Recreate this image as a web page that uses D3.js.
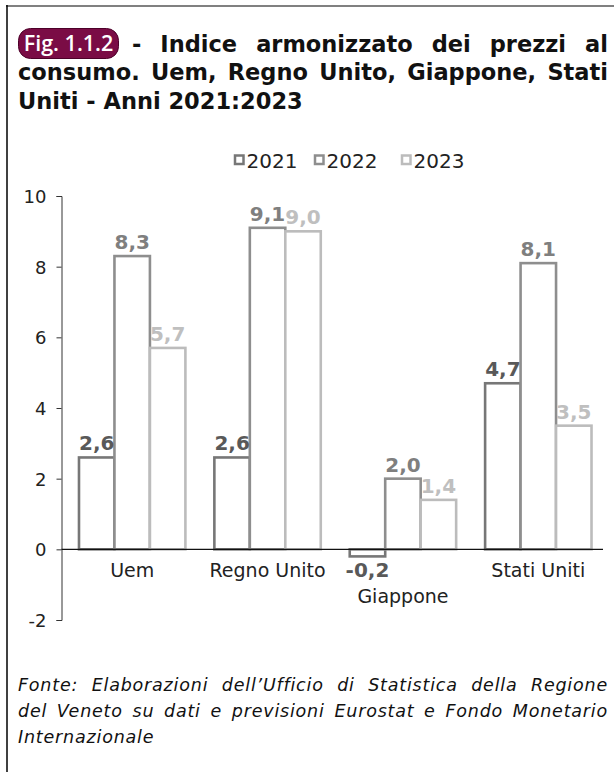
<!DOCTYPE html>
<html>
<head>
<meta charset="utf-8">
<script src="https://cdn.jsdelivr.net/npm/d3@7"></script>
<style>
  html, body { margin: 0; padding: 0; background: #fff; }
  svg { display: block; }
</style>
</head>
<body>
<script>
// Harmonised index of consumer prices, % change, 2021–2023
const categories = ["Uem", "Regno Unito", "Giappone", "Stati Uniti"];
const years = ["2021", "2022", "2023"];
const values2021 = [2.6, 2.6, -0.2, 4.7];
const values2022 = [8.3, 9.1, 2.0, 8.1];
const values2023 = [5.7, 9.0, 1.4, 3.5];
const yTicks = [-2, 0, 2, 4, 6, 8, 10];

const figLabel = "Fig. 1.1.2";
const titleLines = [
  "- Indice armonizzato dei prezzi al",
  "consumo. Uem, Regno Unito, Giappone, Stati",
  "Uniti - Anni 2021:2023"
];
const sourceLines = [
  "Fonte: Elaborazioni dell\u2019Ufficio di Statistica della Regione",
  "del Veneto su dati e previsioni Eurostat e Fondo Monetario",
  "Internazionale"
];

const seriesValues = [values2021, values2022, values2023];
const strokeColors = ["#777777", "#8e8e8e", "#bcbcbc"];
const labelColors = ["#595959", "#7f7f7f", "#bfbfbf"];

const W = 614, H = 772;
const svg = d3.select("body").append("svg").attr("width", W).attr("height", H);

// frame
svg.append("line").attr("x1", 6).attr("x2", W).attr("y1", 6).attr("y2", 6)
  .attr("stroke", "#808080").attr("stroke-width", 2);
svg.append("line").attr("x1", 7).attr("x2", 7).attr("y1", 5).attr("y2", H)
  .attr("stroke", "#000").attr("stroke-width", 1.5);

// lay words out so the line fills [x0, x1]
function justified(g, text, x0, x1, y, attrs, stretch) {
  const words = text.split(" ");
  const nodes = words.map(w => {
    const t = g.append("text").attr("y", y).text(w);
    Object.entries(attrs).forEach(([k, v]) => t.attr(k, v));
    return t;
  });
  const widths = nodes.map(n => n.node().getComputedTextLength());
  const total = d3.sum(widths);
  const probe = g.append("text").text("a a");
  Object.entries(attrs).forEach(([k, v]) => probe.attr(k, v));
  const withSpace = probe.node().getComputedTextLength();
  probe.text("aa");
  const spaceW = withSpace - probe.node().getComputedTextLength();
  probe.remove();
  let gap = stretch && words.length > 1 ? (x1 - x0 - total) / (words.length - 1) : spaceW;
  let scale = 1;
  if (gap < spaceW * 0.6) {          // too long: tighten words a little
    gap = spaceW * 0.6;
    scale = (x1 - x0 - gap * (words.length - 1)) / total;
  }
  let x = x0;
  nodes.forEach((n, i) => {
    n.attr("x", x);
    if (scale < 1) n.attr("textLength", widths[i] * scale).attr("lengthAdjust", "spacingAndGlyphs");
    x += widths[i] * scale + gap;
  });
}

// title
const titleFont = { "font-family": "DejaVu Sans", "font-weight": "bold", "font-size": "22.5px", "fill": "#111" };
const tg = svg.append("g");
tg.append("rect").attr("x", 18.5).attr("y", 28.5).attr("width", 100).attr("height", 30)
  .attr("rx", 12).attr("fill", "#7a0c45").attr("stroke", "#4d0029").attr("stroke-width", 1);
tg.append("text").attr("x", 68.5).attr("y", 51).attr("text-anchor", "middle")
  .attr("font-family", "Open Sans").attr("font-weight", 600).attr("font-size", "21.5px")
  .attr("fill", "#fff").text(figLabel);
justified(tg, titleLines[0], 132, 608, 51.5, titleFont, true);
justified(tg, titleLines[1], 18, 608, 80, titleFont, true);
justified(tg, titleLines[2], 18, 608, 108.5, titleFont, false);

// scales
const y = d3.scaleLinear().domain([-2, 10]).range([620, 196]);
const x0 = d3.scaleBand().domain(categories).range([64.5, 606])
  .paddingInner(0.214).paddingOuter(0.107);
const x1 = d3.scaleBand().domain(years).range([0, x0.bandwidth()]);
const axisX = 61.5;

// legend
const lg = svg.append("g").attr("font-family", "DejaVu Sans").attr("font-size", "20px");
const legendX = [234, 314, 401];
years.forEach((yr, i) => {
  lg.append("rect").attr("x", legendX[i] + 1).attr("y", 155.5).attr("width", 8.5).attr("height", 8.5)
    .attr("fill", "#fff").attr("stroke", strokeColors[i]).attr("stroke-width", 2.5);
  lg.append("text").attr("x", legendX[i] + 12.5).attr("y", 167.5).attr("fill", "#222").text(yr);
});

// y axis
const yAxis = d3.axisLeft(y).tickValues(yTicks).tickSize(5).tickSizeOuter(5).tickPadding(10)
  .tickFormat(d => String(d));
const ag = svg.append("g").attr("transform", `translate(${axisX},0)`).call(yAxis);
ag.selectAll("path, line").attr("stroke", "#333").attr("stroke-width", 1);
ag.selectAll("text").attr("font-family", "DejaVu Sans").attr("font-size", "18px")
  .attr("fill", "#222").attr("dy", "0.36em");

// bars
const bars = svg.append("g");
categories.forEach((cat, ci) => {
  years.forEach((yr, si) => {
    const v = seriesValues[si][ci];
    bars.append("rect")
      .attr("x", x0(cat) + x1(yr))
      .attr("y", y(Math.max(0, v)))
      .attr("width", x1.bandwidth())
      .attr("height", Math.abs(y(v) - y(0)))
      .attr("fill", "#fff")
      .attr("stroke", strokeColors[si])
      .attr("stroke-width", 2.6);
  });
});

// zero line
svg.append("line").attr("x1", axisX).attr("x2", 603).attr("y1", y(0)).attr("y2", y(0))
  .attr("stroke", "#111").attr("stroke-width", 1.2);

// value labels
const fmt = v => v.toFixed(1).replace(".", ",");
const labels = svg.append("g").attr("font-family", "DejaVu Sans").attr("font-weight", "bold")
  .attr("font-size", "20px").attr("text-anchor", "middle");
categories.forEach((cat, ci) => {
  years.forEach((yr, si) => {
    const v = seriesValues[si][ci];
    labels.append("text")
      .attr("x", x0(cat) + x1(yr) + x1.bandwidth() / 2)
      .attr("y", v >= 0 ? y(v) - 7 : y(v) + 21)
      .attr("fill", labelColors[si])
      .text(fmt(v));
  });
});

// category labels; a group with a negative bar moves its name down a line
const cg = svg.append("g").attr("font-family", "DejaVu Sans").attr("font-size", "19px")
  .attr("fill", "#222").attr("text-anchor", "middle");
categories.forEach((cat, ci) => {
  const hasNeg = seriesValues.some(s => s[ci] < 0);
  cg.append("text").attr("x", x0(cat) + x0.bandwidth() / 2)
    .attr("y", y(0) + (hasNeg ? 54 : 28)).text(cat);
});

// source note
const srcFont = { "font-family": "DejaVu Sans", "font-style": "italic", "font-size": "17.5px",
  "letter-spacing": "0.8px", "fill": "#111" };
const sg = svg.append("g");
justified(sg, sourceLines[0], 18, 608, 690.5, srcFont, true);
justified(sg, sourceLines[1], 18, 608, 716.5, srcFont, true);
justified(sg, sourceLines[2], 18, 608, 742.5, srcFont, false);
</script>
</body>
</html>
